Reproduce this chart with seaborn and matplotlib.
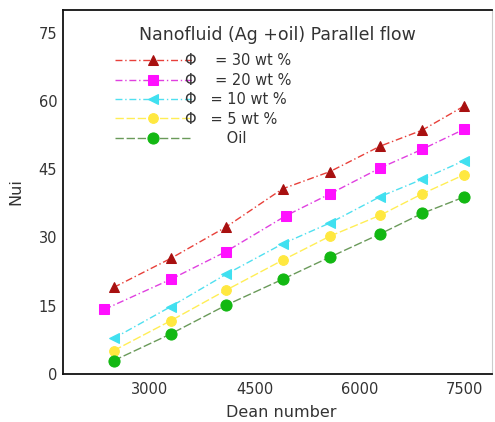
import numpy as np
import pandas as pd
import matplotlib
matplotlib.use("Agg")
import matplotlib.pyplot as plt
from matplotlib.ticker import MultipleLocator
import seaborn as sns

# Dean number at each measurement station
dean = [2480, 3300, 4090, 4900, 5580, 6300, 6900, 7500]
dean_20 = [2350, 3300, 4090, 4950, 5580, 6300, 6900, 7500]

# Inner Nusselt number for each loading of Ag nanoparticles in oil
nu_30 = [19.0, 25.4, 32.3, 40.7, 44.5, 50.1, 53.6, 58.9]
nu_20 = [14.2, 20.8, 26.9, 34.8, 39.6, 45.3, 49.4, 53.8]
nu_10 = [7.8, 14.8, 21.9, 28.6, 33.2, 39.0, 42.8, 46.9]
nu_5 = [5.1, 11.7, 18.4, 25.0, 30.3, 34.9, 39.6, 43.8]
nu_oil = [2.9, 8.8, 15.1, 20.8, 25.7, 30.8, 35.3, 38.9]

labels = ["\u03a6    = 30 wt %", "\u03a6    = 20 wt %", "\u03a6   = 10 wt %",
          "\u03a6   = 5 wt %", "         Oil"]

sns.set_theme(style="white")
plt.rcParams["font.family"] = ["DejaVu Sans"]

fig = plt.figure(figsize=(4.95, 4.22), dpi=100)
ax = fig.add_axes([0.127, 0.114, 0.867, 0.862])

dashdot = (0, (5, 2, 1, 2))
dashed = (0, (6, 2))
series = [
    (dean, nu_30, labels[0], dict(color="#e8403a", linestyle=dashdot, marker="^",
                                   markersize=7, markerfacecolor="#a81010", markeredgecolor="#a81010")),
    (dean_20, nu_20, labels[1], dict(color="#e040e0", linestyle=dashdot, marker="s",
                                      markersize=6.5, markerfacecolor="#ff10ff", markeredgecolor="#ff10ff")),
    (dean, nu_10, labels[2], dict(color="#50e0f0", linestyle=dashdot, marker="<",
                                   markersize=6.5, markerfacecolor="#40e0f0", markeredgecolor="#40e0f0")),
    (dean, nu_5, labels[3], dict(color="#ffee55", linestyle=dashed, marker="o",
                                  markersize=7, markerfacecolor="#ffe840", markeredgecolor="#ffe840")),
    (dean, nu_oil, labels[4], dict(color="#6a9a5a", linestyle=dashed, marker="o",
                                    markersize=8, markerfacecolor="#12b812", markeredgecolor="#12b812")),
]

for xs, ys, lab, st in series:
    df = pd.DataFrame({"Dean number": xs, "Nui": ys})
    sns.lineplot(data=df, x="Dean number", y="Nui", ax=ax, label=lab,
                 linewidth=1.0, sort=False, **st)

ax.set_xlim(1754, 7900)
ax.set_ylim(0, 80)
ax.xaxis.set_major_locator(MultipleLocator(1500))
ax.xaxis.set_minor_locator(MultipleLocator(300))
ax.yaxis.set_major_locator(MultipleLocator(15))
ax.yaxis.set_minor_locator(MultipleLocator(3))
ax.tick_params(which="both", direction="in", colors="#333333", top=False, right=False)
ax.tick_params(which="major", length=6, width=1.0, labelsize=10.5)
ax.tick_params(which="minor", length=3, width=0.8)
ax.tick_params(axis="y", pad=4)
ax.tick_params(axis="x", pad=6)

for side, sp in ax.spines.items():
    sp.set_color("#111111")
    sp.set_linewidth(1.3)
ax.spines["right"].set_color("#cccccc")
ax.spines["right"].set_linewidth(0.8)

ax.set_xlabel("Dean number", fontsize=11.5, color="#333333")
ax.set_ylabel("Nui", fontsize=11.5, color="#333333")
ax.xaxis.set_label_coords(0.51, -0.085)
ax.yaxis.set_label_coords(-0.091, 0.5)

ax.text(0.5, 0.931, "Nanofluid (Ag +oil) Parallel flow", transform=ax.transAxes,
        ha="center", va="center", fontsize=12.5, color="#333333")

leg = ax.legend(loc="upper left", bbox_to_anchor=(0.121, 0.881), frameon=False,
                borderaxespad=0, borderpad=0, handlelength=5.3, handletextpad=-0.5,
                labelspacing=0.3, fontsize=10.5)
for t in leg.get_texts():
    t.set_color("#333333")

fig.savefig("out.png", dpi=100)
